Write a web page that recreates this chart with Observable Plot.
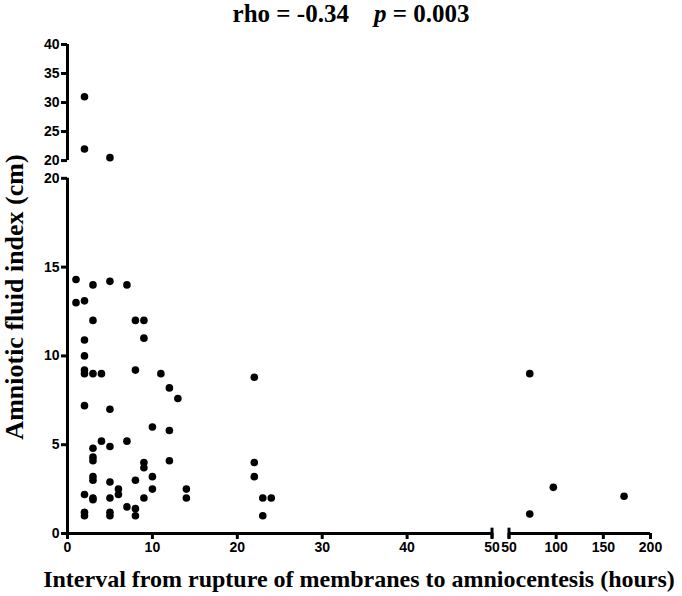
<!DOCTYPE html>
<html>
<head>
<meta charset="utf-8">
<script src="https://cdn.jsdelivr.net/npm/d3@7"></script>
<script src="https://cdn.jsdelivr.net/npm/@observablehq/plot@0.6"></script>
<style>
  html, body { margin: 0; padding: 0; background: #fff; }
  #title { height: 26px; line-height: 26px; text-align: center; padding-left: 20px; box-sizing: border-box;
    font: bold 25px "Liberation Serif", "Times New Roman", serif; white-space: pre; color: #000; overflow: visible; }
</style>
</head>
<body>
<div id="title"></div>
<div id="chart"></div>
<script>
// ---- data ----
const hours = [2, 2, 5,
  1, 1, 2, 3, 5, 7,
  3, 8, 9, 9,
  2, 2,
  2, 2, 3, 4, 8, 11,
  12, 13, 2, 5,
  10, 12, 4, 7, 3, 5,
  3, 3, 9, 9, 12,
  3, 3, 10, 5, 8,
  6, 6, 10, 14,
  2, 3, 3, 5, 9, 14,
  7, 8, 8,
  2, 2, 5, 5,
  22, 22, 22, 23, 24, 23,
  72, 72, 97, 172];
const afi = [31, 22, 20.5,
  14.3, 13.0, 13.1, 14.0, 14.2, 14.0,
  12.0, 12.0, 12.0, 11.0,
  10.9, 10.0,
  9.2, 9.0, 9.0, 9.0, 9.2, 9.0,
  8.2, 7.6, 7.2, 7.0,
  6.0, 5.8, 5.2, 5.2, 4.8, 4.9,
  4.3, 4.1, 4.0, 3.7, 4.1,
  3.2, 3.0, 3.2, 2.9, 3.0,
  2.5, 2.2, 2.5, 2.5,
  2.2, 2.0, 1.9, 2.0, 2.0, 2.0,
  1.5, 1.4, 1.0,
  1.2, 1.0, 1.2, 1.0,
  8.8, 4.0, 3.2, 2.0, 2.0, 1.0,
  9.0, 1.1, 2.6, 2.1];

// broken-axis segments and tick labels
const xSegments = [[0, 50], [50, 200]];
const ySegments = [[0, 20], [20, 40]];
const xTicksLeft = [0, 10, 20, 30, 40, 50];
const xTicksRight = [50, 100, 150, 200];
const yTicksLower = [0, 5, 10, 15, 20];
const yTicksUpper = [20, 25, 30, 35, 40];
const rhoText = "rho = -0.34";
const pValue = "0.003";
const xLabel = "Interval from rupture of membranes to amniocentesis (hours)";
const yLabel = "Amniotic fluid index (cm)";

// title (p in italics)
const titleEl = document.getElementById("title");
titleEl.append(rhoText + "    ");
const pi = document.createElement("i"); pi.textContent = "p"; titleEl.append(pi);
titleEl.append(" = " + pValue);

// ---- piecewise (broken) scale helpers ----
const xGap = 2, xFactors = [1, 1 / 9];
const yGap = 1, yFactors = [1, 1 / 3.06];
function starts(segs, factors, gap) {
  const s = [0];
  for (let i = 1; i < segs.length; i++)
    s.push(s[i - 1] + (segs[i - 1][1] - segs[i - 1][0]) * factors[i - 1] + gap);
  return s;
}
const xStarts = starts(xSegments, xFactors, xGap);
const yStarts = starts(ySegments, yFactors, yGap);
const segMap = (segs, factors, st) => (v, i) => st[i] + (v - segs[i][0]) * factors[i];
const fxs = segMap(xSegments, xFactors, xStarts);
const fys = segMap(ySegments, yFactors, yStarts);
const fx = v => fxs(v, v > xSegments[0][1] ? 1 : 0);
const fy = v => fys(v, v > ySegments[0][1] ? 1 : 0);
const invX1 = d => Math.round(xSegments[1][0] + (d - xStarts[1]) / xFactors[1]);
const invY1 = d => Math.round(ySegments[1][0] + (d - yStarts[1]) / yFactors[1]);

const points = hours.map((h, i) => ({h, a: afi[i]}));
const xDisp = xSegments.map((s, i) => [fxs(s[0], i), fxs(s[1], i)]);
const yDisp = ySegments.map((s, i) => [fys(s[0], i), fys(s[1], i)]);
const xBreakEnds = [xDisp[0][1], xDisp[1][0]];

const SW = 3;
const tickStyle = {tickSize: 6, strokeWidth: SW, label: null, fontSize: 14, fontWeight: "bold"};
const serif = "'Liberation Serif', 'Times New Roman', serif";

const chart = Plot.plot({
  width: 682,
  height: 570,
  marginTop: 18,
  marginBottom: 63,
  marginLeft: 67,
  marginRight: 32,
  x: {type: "linear", domain: [0, xDisp[1][1]]},
  y: {type: "linear", domain: [0, yDisp[1][1]]},
  style: {fontFamily: "'Liberation Sans', Arial, sans-serif", fontSize: "14px", fontWeight: "bold",
          color: "#000", background: "#fff", overflow: "visible"},
  marks: [
    Plot.ruleY(xDisp, {x1: d => d[0], x2: d => d[1], y: () => 0, stroke: "#000", strokeWidth: SW}),
    Plot.ruleX(yDisp, {y1: d => d[0], y2: d => d[1], x: () => 0, stroke: "#000", strokeWidth: SW}),
    Plot.ruleX(xBreakEnds, {x: d => d, y1: () => -0.3, y2: () => 0.3, stroke: "#000", strokeWidth: SW}),
    Plot.axisX(xTicksLeft, {...tickStyle, tickPadding: 3}),
    Plot.axisX(xTicksRight.map(v => fxs(v, 1)), {...tickStyle, tickPadding: 3, tickFormat: invX1}),
    Plot.axisY(yTicksLower, {...tickStyle, tickPadding: 2}),
    Plot.axisY(yTicksUpper.map(v => fys(v, 1)), {...tickStyle, tickPadding: 2, tickFormat: invY1}),
    Plot.dot(points, {x: d => fx(d.h), y: d => fy(d.a), r: 3.8, fill: "#000", stroke: "none"}),
    Plot.text([yLabel], {frameAnchor: "left", textAnchor: "middle", lineAnchor: "middle", rotate: -90,
      dx: -53, dy: 8, text: d => d,
      fontFamily: serif, fontSize: 26, fontWeight: "bold", fill: "#000"}),
    Plot.text([xLabel], {frameAnchor: "bottom", textAnchor: "middle", lineAnchor: "middle", dx: 0, dy: 46, text: d => d,
      fontFamily: serif, fontSize: 24, fontWeight: "bold", fill: "#000"})
  ]
});
document.getElementById("chart").appendChild(chart);
</script>
</body>
</html>
